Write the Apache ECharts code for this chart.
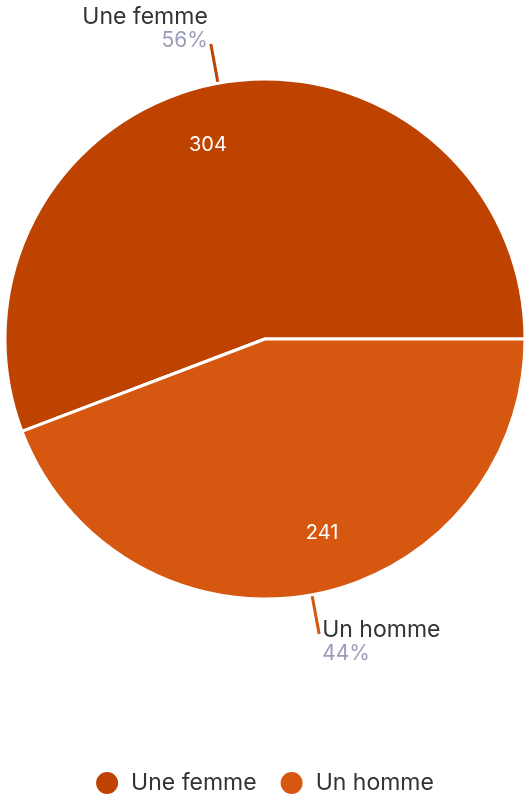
<!DOCTYPE html>
<html>
<head>
<meta charset="utf-8">
<script src="https://cdn.jsdelivr.net/npm/echarts@6/dist/echarts.min.js"></script>
<style>
  html, body { margin: 0; padding: 0; background: #fff; }
  #chart { width: 528px; height: 795px; }
</style>
</head>
<body>
<div id="chart"></div>
<script>
var categories = ["Une femme", "Un homme"];
var counts = [304, 241];
var percents = ["56%", "44%"];
var colors = ["#bf4300", "#d55710"];

var outerData = categories.map(function (name, i) {
  // femme: label sits above the line end, homme: below
  var pad = i === 0 ? [0, 0, 30, 0] : [16, 0, 0, 0];
  return {
    name: name,
    value: counts[i],
    itemStyle: { color: colors[i] },
    label: { padding: pad },
    labelLine: { lineStyle: { color: colors[i] } }
  };
});

var innerData = categories.map(function (name, i) {
  return { name: name, value: counts[i] };
});

var chart = echarts.init(document.getElementById("chart"));
chart.setOption({
  animation: false,
  textStyle: { fontFamily: "Inter" },
  legend: {
    top: 765,
    left: "center",
    icon: "circle",
    itemWidth: 24,
    itemHeight: 24,
    itemGap: 22,
    textStyle: { fontSize: 23, color: "#333333", fontFamily: "Inter", padding: [0, 0, 0, 7] },
    data: categories
  },
  series: [
    {
      type: "pie",
      center: [265, 339],
      radius: [0, 260],
      startAngle: 0,
      clockwise: false,
      silent: true,
      itemStyle: { borderColor: "#ffffff", borderWidth: 3 },
      label: {
        show: true,
        position: "outside",
        distanceToLabelLine: 3,
        formatter: function (p) {
          return "{n|" + p.name + "}\n{p|" + percents[p.dataIndex] + "}";
        },
        rich: {
          n: { fontSize: 23, color: "#333333", fontFamily: "Inter", lineHeight: 24 },
          p: { fontSize: 21, color: "#9b9db8", fontFamily: "Inter", lineHeight: 24 }
        }
      },
      labelLine: { show: true, length: 40, length2: 0, lineStyle: { width: 3 } },
      data: outerData
    },
    {
      type: "pie",
      center: [265, 339],
      radius: [140, 258],
      startAngle: 6,
      clockwise: false,
      silent: true,
      itemStyle: { color: "rgba(0,0,0,0)" },
      label: {
        show: true,
        position: "inside",
        color: "#ffffff",
        fontSize: 20,
        fontFamily: "Inter",
        padding: [6, 0, 0, 0],
        formatter: "{c}"
      },
      labelLine: { show: false },
      data: innerData
    }
  ]
});
</script>
</body>
</html>
